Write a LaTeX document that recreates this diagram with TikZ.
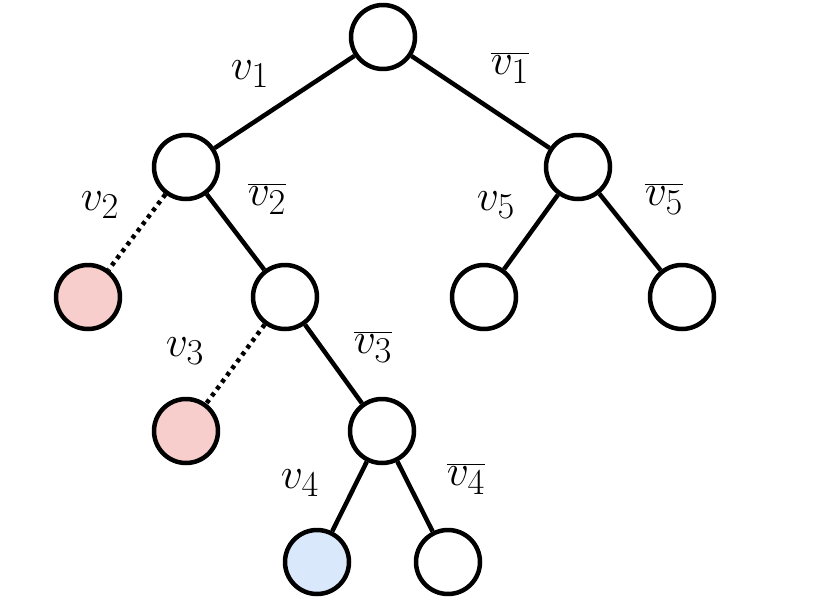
\documentclass[tikz,border=0pt]{standalone}
\definecolor{cutred}{HTML}{F8CECC}
\definecolor{hitblue}{HTML}{DAE8FC}

\begin{document}
\begin{tikzpicture}[x=0.02cm, y=-0.02cm, line width=0.09cm,
    vertex/.style={circle, draw, fill=white, minimum size=1.28cm, inner sep=0pt},
    lbl/.style={font=\Huge, inner sep=0pt},
    pruned/.style={dash pattern=on 0.08cm off 0.09cm}]
    \useasboundingbox (0,0) rectangle (831,602);

    % tree nodes
    \node[vertex] (r) at (383,37) {};
    \node[vertex] (a) at (186,167) {};
    \node[vertex] (b) at (578,167) {};
    \node[vertex, fill=cutred] (a1) at (88,297) {};
    \node[vertex] (a2) at (285,297) {};
    \node[vertex] (b1) at (484,297) {};
    \node[vertex] (b2) at (682,297) {};
    \node[vertex, fill=cutred] (c1) at (186,431) {};
    \node[vertex] (c2) at (382,431) {};
    \node[vertex, fill=hitblue] (d1) at (317,562) {};
    \node[vertex] (d2) at (448,562) {};

    % branches
    \draw (r) -- (a);
    \draw (r) -- (b);
    \draw[pruned] (a) -- (a1);
    \draw (a) -- (a2);
    \draw (b) -- (b1);
    \draw (b) -- (b2);
    \draw[pruned] (a2) -- (c1);
    \draw (a2) -- (c2);
    \draw (c2) -- (d1);
    \draw (c2) -- (d2);

    % branch labels
    \node[lbl] (l1) at (250,74) {$v_1$};
    \node[lbl] (n1) at (510,68) {$\overline{v_1}$};
    \node[lbl] (l2) at (100,205) {$v_2$};
    \node[lbl] (n2) at (267,199) {$\overline{v_2}$};
    \node[lbl] (l5) at (496,205) {$v_5$};
    \node[lbl] (n5) at (664,199) {$\overline{v_5}$};
    \node[lbl] (l3) at (185,351) {$v_3$};
    \node[lbl] (n3) at (373,347) {$\overline{v_3}$};
    \node[lbl] (l4) at (300,483) {$v_4$};
    \node[lbl] (n4) at (466,479) {$\overline{v_4}$};
\end{tikzpicture}
\end{document}
